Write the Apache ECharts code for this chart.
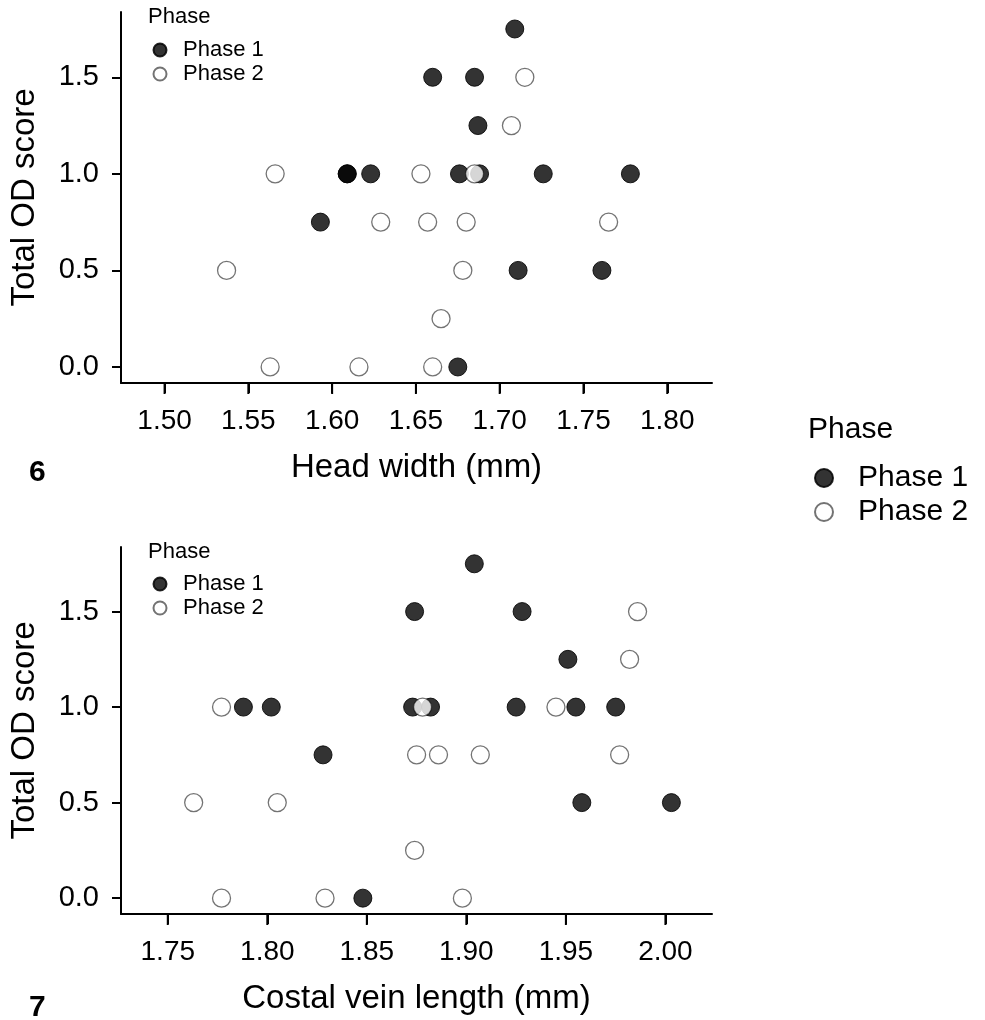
<!DOCTYPE html>
<html>
<head>
<meta charset="utf-8">
<script src="https://cdn.jsdelivr.net/npm/echarts@6/dist/echarts.min.js"></script>
<style>
html,body{margin:0;padding:0;background:#fff;}
#top{width:985px;height:535px;}
#bottom{width:985px;height:485px;}
</style>
</head>
<body>
<div id="top"></div>
<div id="bottom"></div>
<script>
// ---- Data ----
const headWidthPhase1 = [1.709, 1.660, 1.685, 1.687, 1.609, 1.609, 1.623, 1.676, 1.688, 1.726, 1.778, 1.593, 1.711, 1.761, 1.675];
const odTopPhase1     = [1.75, 1.5, 1.5, 1.25, 1.0, 1.0, 1.0, 1.0, 1.0, 1.0, 1.0, 0.75, 0.5, 0.5, 0.0];
const headWidthPhase2 = [1.715, 1.707, 1.566, 1.653, 1.685, 1.629, 1.657, 1.680, 1.765, 1.537, 1.678, 1.665, 1.563, 1.616, 1.660];
const odTopPhase2     = [1.5, 1.25, 1.0, 1.0, 1.0, 0.75, 0.75, 0.75, 0.75, 0.5, 0.5, 0.25, 0.0, 0.0, 0.0];

const costalPhase1 = [1.904, 1.874, 1.928, 1.951, 1.788, 1.802, 1.873, 1.882, 1.925, 1.955, 1.975, 1.828, 1.958, 2.003, 1.848];
const odBotPhase1  = [1.75, 1.5, 1.5, 1.25, 1.0, 1.0, 1.0, 1.0, 1.0, 1.0, 1.0, 0.75, 0.5, 0.5, 0.0];
const costalPhase2 = [1.986, 1.982, 1.777, 1.878, 1.945, 1.875, 1.886, 1.907, 1.977, 1.763, 1.805, 1.874, 1.777, 1.829, 1.898];
const odBotPhase2  = [1.5, 1.25, 1.0, 1.0, 1.0, 0.75, 0.75, 0.75, 0.75, 0.5, 0.5, 0.25, 0.0, 0.0, 0.0];

const headWidthTicks = [1.50, 1.55, 1.60, 1.65, 1.70, 1.75, 1.80];
const costalTicks    = [1.75, 1.80, 1.85, 1.90, 1.95, 2.00];
const odTicks        = [0.0, 0.5, 1.0, 1.5];
const phaseNames     = ['Phase 1', 'Phase 2'];

// ---- Build charts ----
const FONT = 'Liberation Sans, Arial, sans-serif';
const Y_MIN = -0.083, Y_MAX = 1.838;
const zip = (xs, ys) => xs.map((x, i) => [x, ys[i]]);

const styleP1 = { color: 'rgba(0,0,0,0.8)', borderColor: 'rgba(0,0,0,0.85)', borderWidth: 1, opacity: 1 };
const styleP2 = { color: 'rgba(255,255,255,0.8)', borderColor: 'rgba(0,0,0,0.55)', borderWidth: 1.3, opacity: 1 };

function xAxes(min, max, ticks, name) {
  return [{
    type: 'value', min: min, max: max, position: 'bottom',
    name: name, nameLocation: 'middle', nameGap: 68,
    nameTextStyle: { fontFamily: FONT, fontSize: 33, color: '#000' },
    axisLine: { show: true, onZero: false, lineStyle: { color: '#000', width: 2 } },
    axisTick: { show: true, inside: false, length: 10, lineStyle: { color: '#000', width: 2 }, customValues: ticks },
    axisLabel: { customValues: ticks, formatter: v => v.toFixed(2), fontFamily: FONT, fontSize: 28, color: '#000', margin: 24 },
    splitLine: { show: false }
  }, {
    // helper axis carrying only the tick marks, same scale and position
    type: 'value', min: min, max: max, position: 'bottom', offset: 0,
    axisLine: { show: false, onZero: false },
    axisTick: { show: true, inside: false, length: 10, lineStyle: { color: '#000', width: 2 }, customValues: ticks },
    axisLabel: { show: false },
    splitLine: { show: false }
  }];
}
function yAxis() {
  return {
    type: 'value', min: Y_MIN, max: Y_MAX,
    name: 'Total OD score', nameLocation: 'middle', nameGap: 80,
    nameTextStyle: { fontFamily: FONT, fontSize: 33, color: '#000' },
    axisLine: { show: true, onZero: false, lineStyle: { color: '#000', width: 2 } },
    axisTick: { show: true, length: 9, lineStyle: { color: '#000', width: 2 }, customValues: odTicks },
    axisLabel: { customValues: odTicks, formatter: v => v.toFixed(1), fontFamily: FONT, fontSize: 29, color: '#000', margin: 22 },
    splitLine: { show: false }
  };
}
function series(name, x, y, st) {
  return { type: 'scatter', name: name, data: zip(x, y),
    symbol: 'circle', symbolSize: 18, itemStyle: st, emphasis: { disabled: true }, animation: false };
}
// x-axis tick marks placed through the axis scale at the bottom edge of the plot
function tickSeries(ticks) {
  return {
    type: 'custom', name: 'xticks', silent: true, clip: false, animation: false, z: 100, zlevel: 1,
    data: ticks.map(v => [v, Y_MIN]),
    encode: { x: 0, y: 1 },
    renderItem: function (params, api) {
      const p = api.coord([api.value(0), api.value(1)]);
      return { type: 'rect', shape: { x: p[0] - 1, y: p[1], width: 2, height: 11 },
        style: { fill: '#000' } };
    }
  };
}
function innerLegend(top) {
  return { orient: 'vertical', left: 152.5, top: top, itemWidth: 36, itemHeight: 13, itemGap: 2,
    icon: 'circle', padding: 0, selectedMode: false, data: phaseNames,
    textStyle: { fontFamily: FONT, fontSize: 22, color: '#000' } };
}
function txt(t, left, top, size, bold) {
  return { text: t, left: left, top: top, padding: 0,
    textStyle: { fontFamily: FONT, fontSize: size, fontWeight: bold ? 'bold' : 'normal', color: '#000' } };
}

const topChart = echarts.init(document.getElementById('top'), null, { renderer: 'canvas' });
topChart.setOption({
  animation: false,
  grid: { left: 118, top: 12, width: 594, height: 371 },
  xAxis: xAxes(1.474, 1.8267, headWidthTicks, 'Head width (mm)'),
  yAxis: yAxis(),
  title: [
    txt('Phase', 148, 6, 22, false),
    txt('Phase', 808, 415, 30, false),
    txt('6', 29, 458, 30, true)
  ],
  legend: [
    innerLegend(39),
    { orient: 'vertical', left: 814, top: 463, itemWidth: 58, itemHeight: 18, itemGap: 4,
      icon: 'circle', padding: 0, selectedMode: false, data: phaseNames,
      textStyle: { fontFamily: FONT, fontSize: 30, color: '#000' } }
  ],
  series: [
    series('Phase 1', headWidthPhase1, odTopPhase1, styleP1),
    series('Phase 2', headWidthPhase2, odTopPhase2, styleP2),
    tickSeries(headWidthTicks)
  ]
});

const botChart = echarts.init(document.getElementById('bottom'), null, { renderer: 'canvas' });
botChart.setOption({
  animation: false,
  grid: { left: 118, top: 12, width: 594, height: 370 },
  xAxis: xAxes(1.7265, 2.0234, costalTicks, 'Costal vein length (mm)'),
  yAxis: yAxis(),
  title: [
    txt('Phase', 148, 6, 22, false),
    txt('7', 29, 458, 30, true)
  ],
  legend: [innerLegend(38)],
  series: [
    series('Phase 1', costalPhase1, odBotPhase1, styleP1),
    series('Phase 2', costalPhase2, odBotPhase2, styleP2),
    tickSeries(costalTicks)
  ]
});
</script>
</body>
</html>
